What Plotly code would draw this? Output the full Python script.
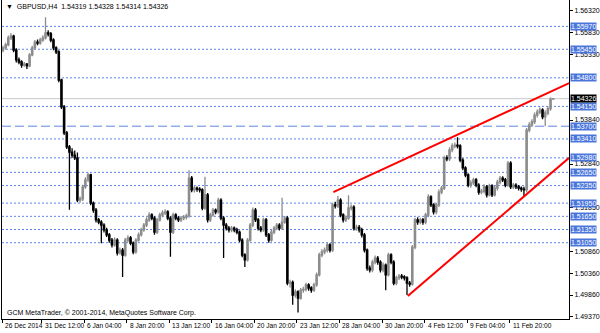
import plotly.graph_objects as go

# ---------------- data (GBPUSD H4) ----------------
open_ = [
    1.5543, 1.5548, 1.5555, 1.5571, 1.5575, 1.5543, 1.5521, 1.5516, 1.5509, 1.5511,
    1.5507, 1.5532, 1.5548, 1.5561, 1.5559, 1.5566, 1.5571, 1.5582, 1.5580, 1.5566,
    1.5548, 1.5539, 1.5475, 1.5414, 1.5355, 1.5323, 1.5311, 1.5304, 1.5298, 1.5202,
    1.5205, 1.5232, 1.5248, 1.5259, 1.5195, 1.5179, 1.5157, 1.5152, 1.5145, 1.5134,
    1.5123, 1.5111, 1.5100, 1.5111, 1.5082, 1.5088, 1.5077, 1.5111, 1.5116, 1.5104,
    1.5084, 1.5111, 1.5123, 1.5134, 1.5145, 1.5157, 1.5168, 1.5161, 1.5129, 1.5157,
    1.5168, 1.5173, 1.5175, 1.5161, 1.5129, 1.5168, 1.5161, 1.5157, 1.5161, 1.5163,
    1.5166, 1.5252, 1.5225, 1.5229, 1.5227, 1.5225, 1.5184, 1.5214, 1.5157, 1.5168,
    1.5179, 1.5175, 1.5202, 1.5161, 1.5145, 1.5138, 1.5134, 1.5138, 1.5134, 1.5129,
    1.5111, 1.5077, 1.5066, 1.5111, 1.5145, 1.5179, 1.5157, 1.5138, 1.5134, 1.5157,
    1.5123, 1.5111, 1.5129, 1.5138, 1.5145, 1.5138, 1.5152, 1.5161, 1.5013, 1.5015,
    1.4986, 1.4993, 1.4979, 1.4997, 1.4999, 1.5009, 1.5002, 1.4997, 1.5009, 1.5032,
    1.5077, 1.5084, 1.5088, 1.5100, 1.5088, 1.5191, 1.5189, 1.5202, 1.5168, 1.5157,
    1.5161, 1.5184, 1.5186, 1.5138, 1.5140, 1.5134, 1.5123, 1.5088, 1.5047, 1.5043,
    1.5061, 1.5070, 1.5061, 1.5043, 1.5054, 1.5032, 1.5077, 1.5061, 1.5013, 1.5025,
    1.5029, 1.5027, 1.5025, 1.5013, 1.5011, 1.5095, 1.5157, 1.5152, 1.5157, 1.5152,
    1.5168, 1.5209, 1.5191, 1.5175, 1.5191, 1.5220, 1.5229, 1.5298, 1.5296, 1.5316,
    1.5325, 1.5327, 1.5325, 1.5293, 1.5275, 1.5259, 1.5236, 1.5241, 1.5248, 1.5236,
    1.5220, 1.5222, 1.5232, 1.5214, 1.5234, 1.5214, 1.5229, 1.5243, 1.5252, 1.5248,
    1.5236, 1.5286, 1.5232, 1.5236, 1.5232, 1.5229, 1.5227, 1.5225, 1.5361, 1.5373,
    1.5380, 1.5395, 1.5402, 1.5407, 1.5391, 1.5400, 1.5410, 1.54319,
]
high = [
    1.5553, 1.5560, 1.5576, 1.5582, 1.5578, 1.5547, 1.5526, 1.5520, 1.5516, 1.5514,
    1.5536, 1.5553, 1.5566, 1.5567, 1.5571, 1.5577, 1.5618, 1.5588, 1.5584, 1.5570,
    1.5552, 1.5543, 1.5478, 1.5418, 1.5359, 1.5327, 1.5320, 1.5315, 1.5310, 1.5210,
    1.5237, 1.5254, 1.5264, 1.5262, 1.5199, 1.5184, 1.5161, 1.5156, 1.5149, 1.5139,
    1.5127, 1.5116, 1.5117, 1.5115, 1.5094, 1.5093, 1.5116, 1.5122, 1.5120, 1.5108,
    1.5115, 1.5128, 1.5139, 1.5150, 1.5163, 1.5174, 1.5172, 1.5165, 1.5162, 1.5173,
    1.5179, 1.5181, 1.5179, 1.5165, 1.5173, 1.5172, 1.5165, 1.5166, 1.5168, 1.5171,
    1.5270, 1.5257, 1.5234, 1.5233, 1.5231, 1.5229, 1.5255, 1.5218, 1.5173, 1.5184,
    1.5183, 1.5207, 1.5206, 1.5165, 1.5150, 1.5143, 1.5143, 1.5142, 1.5139, 1.5133,
    1.5115, 1.5081, 1.5116, 1.5150, 1.5185, 1.5184, 1.5161, 1.5143, 1.5162, 1.5161,
    1.5127, 1.5134, 1.5143, 1.5150, 1.5149, 1.5207, 1.5166, 1.5165, 1.5021, 1.5019,
    1.4999, 1.4997, 1.5002, 1.5005, 1.5014, 1.5013, 1.5006, 1.5014, 1.5037, 1.5082,
    1.5090, 1.5094, 1.5105, 1.5104, 1.5196, 1.5198, 1.5211, 1.5206, 1.5172, 1.5167,
    1.5213, 1.5192, 1.5190, 1.5146, 1.5145, 1.5139, 1.5127, 1.5092, 1.5053, 1.5066,
    1.5076, 1.5075, 1.5065, 1.5060, 1.5058, 1.5082, 1.5081, 1.5065, 1.5030, 1.5034,
    1.5034, 1.5031, 1.5029, 1.5018, 1.5100, 1.5162, 1.5163, 1.5162, 1.5161, 1.5173,
    1.5215, 1.5213, 1.5195, 1.5196, 1.5226, 1.5234, 1.5303, 1.5304, 1.5322, 1.5331,
    1.5333, 1.5345, 1.5329, 1.5297, 1.5279, 1.5263, 1.5247, 1.5253, 1.5252, 1.5240,
    1.5228, 1.5238, 1.5236, 1.5239, 1.5238, 1.5234, 1.5248, 1.5257, 1.5256, 1.5252,
    1.5291, 1.5290, 1.5241, 1.5240, 1.5236, 1.5233, 1.5232, 1.5366, 1.5379, 1.5386,
    1.5401, 1.5408, 1.5413, 1.5411, 1.5406, 1.5416, 1.5436, 1.54328,
]
low = [
    1.5538, 1.5544, 1.5552, 1.5566, 1.5538, 1.5515, 1.5511, 1.5503, 1.5505, 1.5500,
    1.5504, 1.5529, 1.5544, 1.5554, 1.5555, 1.5562, 1.5567, 1.5574, 1.5561, 1.5543,
    1.5534, 1.5470, 1.5409, 1.5350, 1.5318, 1.5180, 1.5298, 1.5293, 1.5197, 1.5196,
    1.5200, 1.5228, 1.5243, 1.5190, 1.5173, 1.5151, 1.5147, 1.5104, 1.5128, 1.5118,
    1.5105, 1.5094, 1.5096, 1.5076, 1.5078, 1.5027, 1.5073, 1.5106, 1.5099, 1.5079,
    1.5080, 1.5107, 1.5119, 1.5130, 1.5141, 1.5152, 1.5156, 1.5123, 1.5125, 1.5153,
    1.5163, 1.5168, 1.5156, 1.5073, 1.5125, 1.5156, 1.5152, 1.5152, 1.5156, 1.5158,
    1.5162, 1.5220, 1.5219, 1.5221, 1.5219, 1.5179, 1.5180, 1.5151, 1.5152, 1.5164,
    1.5170, 1.5171, 1.5156, 1.5070, 1.5133, 1.5128, 1.5129, 1.5129, 1.5124, 1.5106,
    1.5072, 1.5050, 1.5062, 1.5107, 1.5140, 1.5152, 1.5133, 1.5129, 1.5130, 1.5118,
    1.5105, 1.5107, 1.5124, 1.5134, 1.5133, 1.5134, 1.5148, 1.5008, 1.5003, 1.4964,
    1.4980, 1.4946, 1.4975, 1.4991, 1.4994, 1.4996, 1.4991, 1.4993, 1.5005, 1.5028,
    1.5072, 1.5079, 1.5083, 1.5083, 1.5084, 1.5183, 1.5184, 1.5163, 1.5151, 1.5152,
    1.5157, 1.5178, 1.5133, 1.5132, 1.5128, 1.5117, 1.5083, 1.5041, 1.5037, 1.5038,
    1.5056, 1.5055, 1.5037, 1.5038, 1.4997, 1.5028, 1.5056, 1.5008, 1.5008, 1.5020,
    1.5022, 1.5019, 1.4986, 1.5005, 1.5007, 1.5090, 1.5146, 1.5147, 1.5146, 1.5147,
    1.5163, 1.5186, 1.5169, 1.5170, 1.5186, 1.5215, 1.5225, 1.5290, 1.5291, 1.5311,
    1.5320, 1.5319, 1.5288, 1.5270, 1.5254, 1.5231, 1.5230, 1.5236, 1.5231, 1.5214,
    1.5215, 1.5217, 1.5208, 1.5210, 1.5209, 1.5210, 1.5224, 1.5238, 1.5243, 1.5231,
    1.5232, 1.5227, 1.5227, 1.5227, 1.5224, 1.5221, 1.5210, 1.5220, 1.5356, 1.5368,
    1.5375, 1.5390, 1.5397, 1.5386, 1.5370, 1.5395, 1.5405, 1.54314,
]
close = [
    1.5548, 1.5555, 1.5571, 1.5575, 1.5543, 1.5521, 1.5516, 1.5509, 1.5511, 1.5507,
    1.5532, 1.5548, 1.5561, 1.5559, 1.5566, 1.5571, 1.5582, 1.5580, 1.5566, 1.5548,
    1.5539, 1.5475, 1.5414, 1.5355, 1.5323, 1.5311, 1.5304, 1.5298, 1.5202, 1.5205,
    1.5232, 1.5248, 1.5259, 1.5195, 1.5179, 1.5157, 1.5152, 1.5145, 1.5134, 1.5123,
    1.5111, 1.5100, 1.5111, 1.5082, 1.5088, 1.5077, 1.5111, 1.5116, 1.5104, 1.5084,
    1.5111, 1.5123, 1.5134, 1.5145, 1.5157, 1.5168, 1.5161, 1.5129, 1.5157, 1.5168,
    1.5173, 1.5175, 1.5161, 1.5129, 1.5168, 1.5161, 1.5157, 1.5161, 1.5163, 1.5166,
    1.5252, 1.5225, 1.5229, 1.5227, 1.5225, 1.5184, 1.5214, 1.5157, 1.5168, 1.5179,
    1.5175, 1.5202, 1.5161, 1.5145, 1.5138, 1.5134, 1.5138, 1.5134, 1.5129, 1.5111,
    1.5077, 1.5066, 1.5111, 1.5145, 1.5179, 1.5157, 1.5138, 1.5134, 1.5157, 1.5123,
    1.5111, 1.5129, 1.5138, 1.5145, 1.5138, 1.5152, 1.5161, 1.5013, 1.5015, 1.4986,
    1.4993, 1.4979, 1.4997, 1.4999, 1.5009, 1.5002, 1.4997, 1.5009, 1.5032, 1.5077,
    1.5084, 1.5088, 1.5100, 1.5088, 1.5191, 1.5189, 1.5202, 1.5168, 1.5157, 1.5161,
    1.5184, 1.5186, 1.5138, 1.5140, 1.5134, 1.5123, 1.5088, 1.5047, 1.5043, 1.5061,
    1.5070, 1.5061, 1.5043, 1.5054, 1.5032, 1.5077, 1.5061, 1.5013, 1.5025, 1.5029,
    1.5027, 1.5025, 1.5013, 1.5011, 1.5095, 1.5157, 1.5152, 1.5157, 1.5152, 1.5168,
    1.5209, 1.5191, 1.5175, 1.5191, 1.5220, 1.5229, 1.5298, 1.5296, 1.5316, 1.5325,
    1.5327, 1.5325, 1.5293, 1.5275, 1.5259, 1.5236, 1.5241, 1.5248, 1.5236, 1.5220,
    1.5222, 1.5232, 1.5214, 1.5234, 1.5214, 1.5229, 1.5243, 1.5252, 1.5248, 1.5236,
    1.5286, 1.5232, 1.5236, 1.5232, 1.5229, 1.5227, 1.5225, 1.5361, 1.5373, 1.5380,
    1.5395, 1.5402, 1.5407, 1.5391, 1.5400, 1.5410, 1.5431, 1.54326,
]

# horizontal levels drawn on the chart
levels_dotted = [1.55970, 1.55450, 1.54800, 1.54150, 1.53410, 1.52980,
                 1.52650, 1.52350, 1.51950, 1.51650, 1.51350, 1.51050]
levels_dashed = [1.53700]
bid_price = 1.54326

# trend lines (bar index, price)
upper_trend_bar = [124.3, 213.0]
upper_trend_price = [1.5220, 1.5468]
lower_trend_bar = [152.3, 213.0]
lower_trend_price = [1.4984, 1.5298]

# price-axis ticks
price_ticks = [1.56320, 1.55830, 1.55330, 1.53840, 1.52840, 1.51850,
               1.50860, 1.50360, 1.49860, 1.49370]

# time-axis labels and the bar each one marks
time_labels = ["26 Dec 2014", "31 Dec 12:00", "6 Jan 04:00", "8 Jan 20:00",
               "13 Jan 12:00", "16 Jan 04:00", "20 Jan 20:00", "23 Jan 12:00",
               "28 Jan 04:00", "30 Jan 20:00", "4 Feb 12:00", "9 Feb 04:00",
               "11 Feb 20:00"]
time_label_bars = [-0.37, 14.6, 30.6, 46.6, 62.6, 78.6, 94.6, 110.6,
                   126.6, 142.6, 158.6, 174.6, 190.6]

# ---------------- figure ----------------
FONT = "Liberation Sans"
BLUE = "#4a76dc"
LINE_BLUE = "#5f84e4"

bars = list(range(len(close)))

fig = go.Figure()
fig.add_trace(go.Candlestick(
    x=bars, open=open_, high=high, low=low, close=close,
    increasing=dict(line=dict(color="#8c8c8c", width=1.3), fillcolor="#a0a0a0"),
    decreasing=dict(line=dict(color="#000000", width=1.3), fillcolor="#000000"),
    whiskerwidth=0, showlegend=False, hoverinfo="skip",
))
fig.add_trace(go.Scatter(x=upper_trend_bar, y=upper_trend_price, mode="lines",
                         line=dict(color="#ff0000", width=2), showlegend=False,
                         hoverinfo="skip"))
fig.add_trace(go.Scatter(x=lower_trend_bar, y=lower_trend_price, mode="lines",
                         line=dict(color="#ff0000", width=2), showlegend=False,
                         hoverinfo="skip"))

shapes = []
annotations = []
for lv in levels_dotted:
    shapes.append(dict(type="line", xref="paper", x0=0, x1=1, yref="y", y0=lv, y1=lv,
                       line=dict(color=LINE_BLUE, width=1, dash="2px,2px"), layer="below"))
for lv in levels_dashed:
    shapes.append(dict(type="line", xref="paper", x0=0, x1=1, yref="y", y0=lv, y1=lv,
                       line=dict(color=LINE_BLUE, width=1, dash="9px,4px"), layer="below"))
shapes.append(dict(type="line", xref="paper", x0=0, x1=1, yref="y", y0=bid_price,
                   y1=bid_price, line=dict(color="#c8c8c8", width=1), layer="below"))

for lv in levels_dotted + levels_dashed:
    annotations.append(dict(xref="paper", x=1, yref="y", y=lv, text=f"{lv:.5f}",
                            showarrow=False, xanchor="left", yanchor="middle",
                            xshift=1, font=dict(family=FONT, size=7, color="white"),
                            bgcolor=BLUE, borderpad=0))
annotations.append(dict(xref="paper", x=1, yref="y", y=bid_price, text=f"{bid_price:.5f}",
                        showarrow=False, xanchor="left", yanchor="middle", xshift=1,
                        font=dict(family=FONT, size=7, color="white"),
                        bgcolor="#000000", borderpad=0))

for lbl, b in zip(time_labels, time_label_bars):
    annotations.append(dict(xref="x", x=b, yref="paper", y=0, text=lbl, showarrow=False,
                            xanchor="left", yanchor="top", xshift=1, yshift=-1,
                            font=dict(family=FONT, size=6.6, color="black")))

annotations.append(dict(xref="paper", x=0, yref="paper", y=1,
                        text="▼  GBPUSD,H4  1.54319 1.54328 1.54314 1.54326",
                        showarrow=False, xanchor="left", yanchor="top", xshift=2, yshift=-1,
                        font=dict(family=FONT, size=7, color="black")))
annotations.append(dict(xref="paper", x=0, yref="paper", y=0,
                        text="GCM MetaTrader, © 2001-2014, MetaQuotes Software Corp.",
                        showarrow=False, xanchor="left", yanchor="bottom", xshift=3, yshift=0,
                        font=dict(family=FONT, size=7, color="black")))

fig.update_layout(
    width=600, height=333,
    margin=dict(l=2, r=28, t=0, b=14),
    paper_bgcolor="white", plot_bgcolor="white",
    shapes=shapes, annotations=annotations,
    xaxis=dict(range=[-0.37, 212.95], showgrid=False, zeroline=False,
               showline=True, linecolor="black", linewidth=1,
               ticks="outside", ticklen=3, tickcolor="black",
               tickvals=time_label_bars, showticklabels=False,
               rangeslider=dict(visible=False), fixedrange=True),
    yaxis=dict(range=[1.49315, 1.5657], side="right", showgrid=False, zeroline=False,
               showline=True, mirror=True, linecolor="black", linewidth=1,
               ticks="outside", ticklen=3, tickcolor="black",
               tickvals=price_ticks, ticktext=[f"{t:.5f}" for t in price_ticks],
               tickfont=dict(family=FONT, size=7, color="black"), fixedrange=True),
    font=dict(family=FONT, size=7),
)

fig.write_html("out.html")
